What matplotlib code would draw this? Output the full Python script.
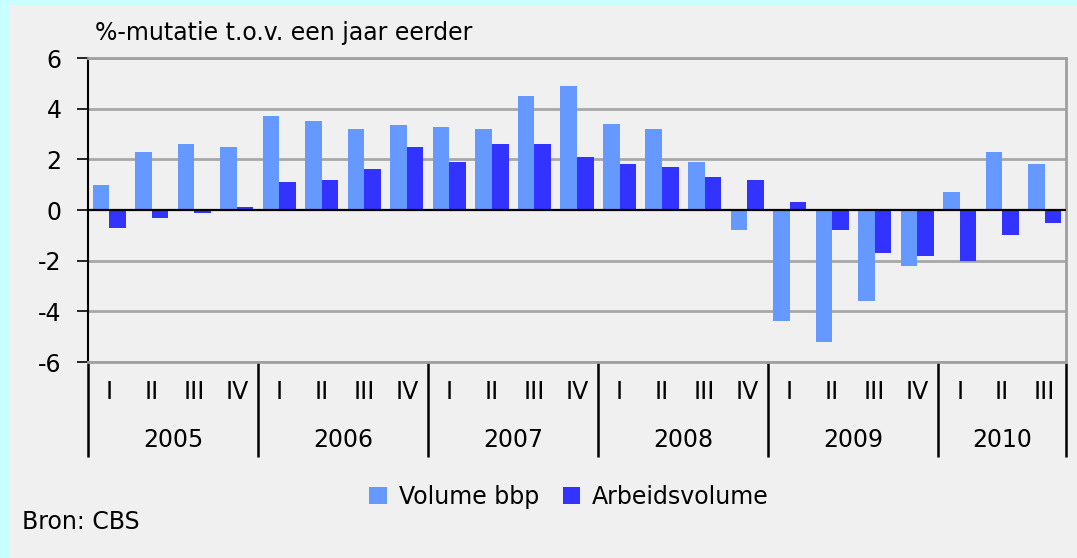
import matplotlib
matplotlib.use("Agg")
import matplotlib.pyplot as plt
from matplotlib.patches import Rectangle
from matplotlib.transforms import blended_transform_factory
import numpy as np

plt.rcParams['font.family'] = ['DejaVu Sans']

years = ['2005', '2006', '2007', '2008', '2009', '2010']
quarters_per_year = [4, 4, 4, 4, 4, 3]
quarter_names = ['I', 'II', 'III', 'IV']

volume_bbp = [1.0, 2.3, 2.6, 2.5,
              3.7, 3.5, 3.2, 3.35,
              3.27, 3.2, 4.5, 4.9,
              3.4, 3.2, 1.9, -0.8,
              -4.4, -5.2, -3.6, -2.2,
              0.7, 2.3, 1.8]
arbeidsvolume = [-0.7, -0.3, -0.1, 0.1,
                 1.1, 1.2, 1.6, 2.5,
                 1.9, 2.6, 2.6, 2.1,
                 1.8, 1.7, 1.3, 1.2,
                 0.3, -0.8, -1.7, -1.8,
                 -2.0, -1.0, -0.5]
yticks = [-6, -4, -2, 0, 2, 4, 6]

FS = 17
W, H = 1077, 558
fig = plt.figure(figsize=(W / 100, H / 100), dpi=100)
fig.patch.set_facecolor('#c8ffff')
fig.patches.append(Rectangle((10 / W, 0), 1 - 10 / W, (H - 5) / H,
                             transform=fig.transFigure, facecolor='#f0f0f0',
                             edgecolor='none', zorder=-10))

ax = fig.add_axes([88 / W, (H - 362) / H, (1066 - 88) / W, (362 - 58) / H])
ax.set_facecolor('#f0f0f0')

n = len(volume_bbp)
x = np.arange(n)
bw = 0.39
ax.bar(x - bw / 2, volume_bbp, width=bw, color='#6699ff', zorder=3, label='Volume bbp')
ax.bar(x + bw / 2, arbeidsvolume, width=bw, color='#3333ff', zorder=3, label='Arbeidsvolume')

ax.set_xlim(-0.5, n - 0.5)
ax.set_ylim(-6, 6)
ax.set_yticks(yticks)
ax.set_yticklabels([str(v) for v in yticks], fontsize=FS)
ax.tick_params(axis='y', length=8, width=1.2, color='black', pad=11)
ax.set_xticks([])

for v in yticks:
    if v != 0:
        ax.axhline(v, color='#a8a8a8', lw=2, zorder=1)
ax.axhline(0, color='black', lw=1.6, zorder=4)

for s in ['top', 'right', 'bottom']:
    ax.spines[s].set_color('#a0a0a0')
    ax.spines[s].set_linewidth(2)
ax.spines['left'].set_color('black')
ax.spines['left'].set_linewidth(1.5)

trans = blended_transform_factory(ax.transData, fig.transFigure)
def fy(py):
    return (H - py) / H

pos = 0
bounds = [-0.5]
for yr, nq in zip(years, quarters_per_year):
    for q in range(nq):
        ax.text(pos + q, fy(392), quarter_names[q], transform=trans,
                ha='center', va='center', fontsize=FS, clip_on=False)
    ax.text(pos + (nq - 1) / 2, fy(440), yr, transform=trans,
            ha='center', va='center', fontsize=FS, clip_on=False)
    pos += nq
    bounds.append(pos - 0.5)

for b in bounds:
    ax.plot([b, b], [fy(362), fy(457)], transform=trans, color='black',
            lw=1.8, clip_on=False, solid_capstyle='butt')

fig.text(95 / W, fy(33), '%-mutatie t.o.v. een jaar eerder', fontsize=FS,
         ha='left', va='center')
fig.text(22 / W, fy(522), 'Bron: CBS', fontsize=FS, ha='left', va='center')

leg = fig.legend(loc='center', bbox_to_anchor=(569 / W, fy(497)), ncol=2,
                 frameon=False, fontsize=FS, handlelength=0.75, handleheight=0.75,
                 handletextpad=0.5, columnspacing=1.0)

fig.savefig('out.png', dpi=100, facecolor=fig.get_facecolor())
